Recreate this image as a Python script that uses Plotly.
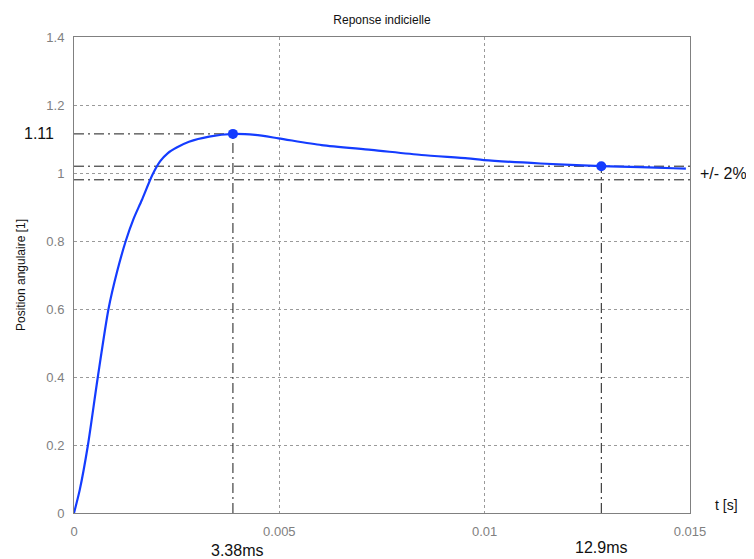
import plotly.graph_objects as go

# Step response
t = [0, 0.00014, 0.00034, 0.00058, 0.00084, 0.00105, 0.00126, 0.00145, 0.00165,
     0.00191, 0.0021, 0.00228, 0.00250, 0.0028, 0.00329, 0.00387, 0.00441, 0.00498,
     0.00603, 0.00724, 0.00846, 0.00959, 0.00998, 0.01136, 0.01284, 0.01379,
     0.0146, 0.0149]
pos = [0, 0.068, 0.2, 0.4, 0.6, 0.71, 0.8, 0.865, 0.92,
       0.995, 1.035, 1.058, 1.075, 1.092, 1.107, 1.115, 1.112, 1.102,
       1.082, 1.068, 1.053, 1.043, 1.038, 1.028, 1.02, 1.017,
       1.014, 1.013]

# Peak and settling points
peak_t, peak_y = 0.00387, 1.115
settle_t, settle_y = 0.01284, 1.02
band = [0.98, 1.02]

x_ticks = [0, 0.005, 0.01, 0.015]
x_tick_labels = ["0", "0.005", "0.01", "0.015"]
y_ticks = [0, 0.2, 0.4, 0.6, 0.8, 1, 1.2, 1.4]
y_tick_labels = ["0", "0.2", "0.4", "0.6", "0.8", "1", "1.2", "1.4"]

BLUE = "rgb(20,60,255)"
DASHDOT = "10px,4px,2px,4px"
REF = "#1a1a1a"
FONT = "Liberation Sans, Arial, sans-serif"

fig = go.Figure()

# dash-dot reference lines
ref_lines = [
    ([0, peak_t], [peak_y, peak_y]),
    ([peak_t, peak_t], [0, peak_y]),
    ([0, 0.015], [band[1], band[1]]),
    ([0, 0.015], [band[0], band[0]]),
    ([settle_t, settle_t], [0, settle_y]),
]
for xs, ys in ref_lines:
    fig.add_trace(go.Scatter(x=xs, y=ys, mode="lines",
                             line=dict(color=REF, width=1, dash=DASHDOT),
                             showlegend=False, hoverinfo="skip"))

fig.add_trace(go.Scatter(x=t, y=pos, mode="lines",
                         line=dict(color=BLUE, width=2.2, shape="spline", smoothing=0.7),
                         showlegend=False))
fig.add_trace(go.Scatter(x=[peak_t, settle_t], y=[peak_y, settle_y], mode="markers",
                         marker=dict(color=BLUE, size=10),
                         showlegend=False))

ann = dict(showarrow=False, font=dict(family=FONT, size=16, color="#111111"))
fig.add_annotation(text="1.11", xref="x", yref="y", x=0, y=peak_y,
                   xanchor="right", xshift=-18, **ann)
fig.add_annotation(text="+/- 2%", xref="paper", yref="y", x=1, y=1.0,
                   xanchor="left", xshift=8, **ann)
fig.add_annotation(text="3.38ms", xref="x", yref="paper", x=peak_t, y=0,
                   yanchor="middle", yshift=-37, xshift=4, **ann)
fig.add_annotation(text="12.9ms", xref="x", yref="paper", x=settle_t, y=0,
                   yanchor="middle", yshift=-34, **ann)
fig.add_annotation(text="t [s]", xref="paper", yref="paper", x=1, y=0,
                   xanchor="left", yanchor="middle", xshift=23, yshift=8,
                   font=dict(family=FONT, size=14, color="#111111"), showarrow=False)

axis_common = dict(showline=True, linecolor="#808080", linewidth=1, mirror=True,
                   showgrid=True, gridcolor="#9a9a9a", griddash="3px,3px", gridwidth=1,
                   zeroline=False, ticks="",
                   tickfont=dict(family=FONT, size=13, color="#808080"))

fig.update_xaxes(range=[0, 0.015], tickvals=x_ticks, ticktext=x_tick_labels,
                 ticklabelstandoff=6, **axis_common)
fig.update_yaxes(range=[0, 1.4], tickvals=y_ticks, ticktext=y_tick_labels,
                 ticklabelstandoff=6,
                 title=dict(text="Position angulaire [1]", standoff=18,
                            font=dict(family=FONT, size=12, color="#111111")),
                 **axis_common)

# the page body adds an 8px offset, so the figure is 8px smaller and margins shifted
fig.update_layout(
    width=746, height=551,
    margin=dict(l=63, r=64, t=29, b=46),
    paper_bgcolor="white", plot_bgcolor="white",
    title=dict(text="Reponse indicielle", x=0.5, xref="paper", xanchor="center",
               y=0.978, yanchor="middle",
               font=dict(family=FONT, size=12, color="#111111")),
)

fig.write_html("out.html")
